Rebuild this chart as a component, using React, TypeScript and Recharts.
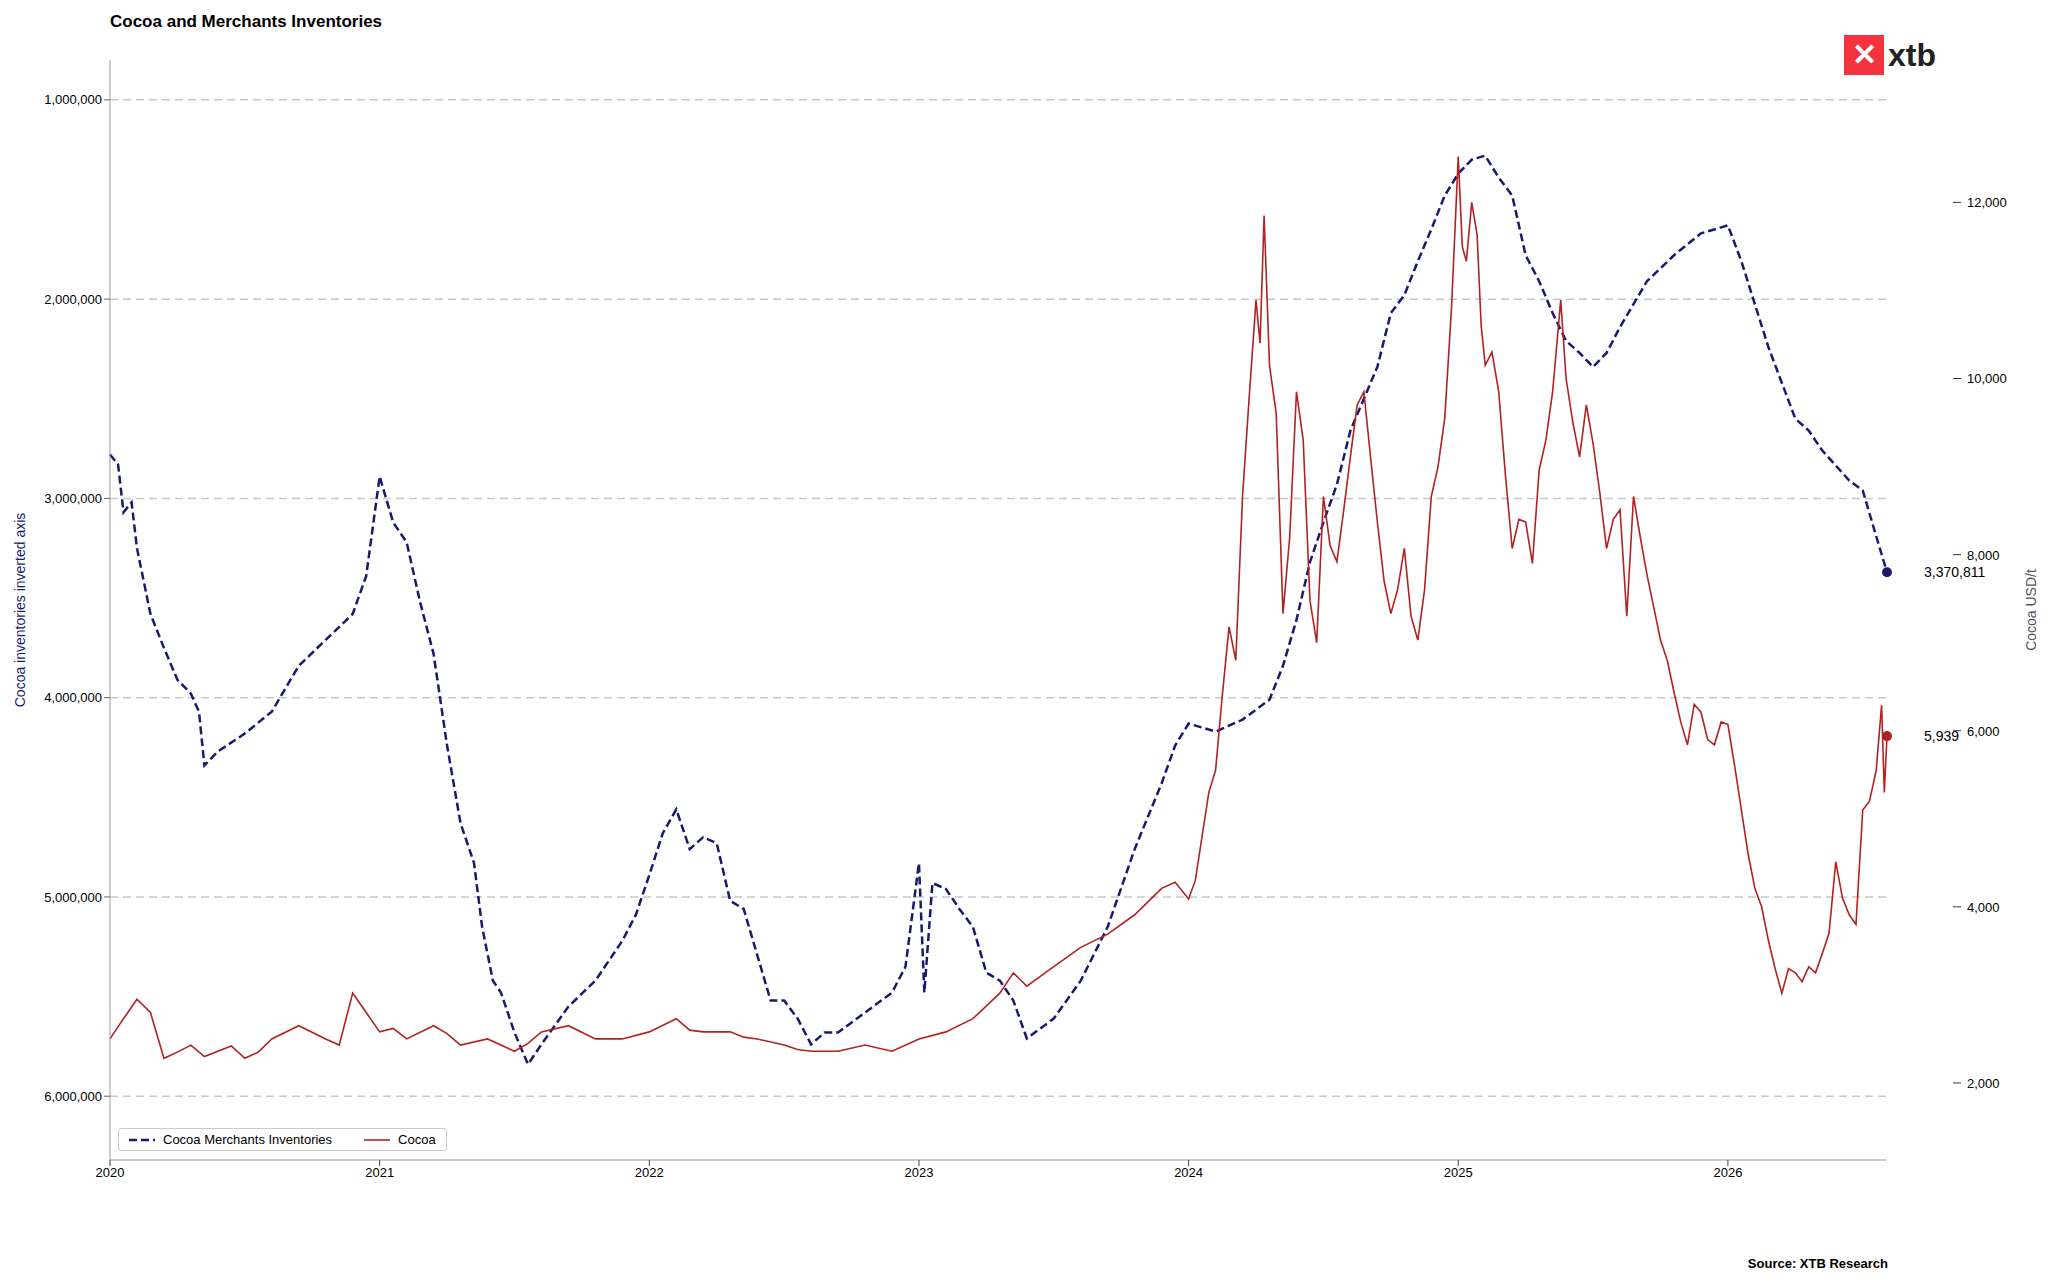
import React from "react";
import { LineChart, Line, XAxis, YAxis, ReferenceLine } from "recharts";

// Cocoa merchants inventories (tonnes), inverted axis
const invYears = [
  2020.0, 2020.03, 2020.05, 2020.08, 2020.1, 2020.15, 2020.2, 2020.25, 2020.3, 2020.33, 2020.35, 2020.4, 2020.5,
  2020.6, 2020.7, 2020.8, 2020.9, 2020.95, 2021.0, 2021.05, 2021.1, 2021.15, 2021.2, 2021.25, 2021.3, 2021.35,
  2021.38, 2021.42, 2021.45, 2021.5, 2021.55, 2021.6, 2021.7, 2021.8, 2021.9, 2021.95, 2022.0, 2022.05, 2022.1,
  2022.15, 2022.2, 2022.25, 2022.3, 2022.35, 2022.4, 2022.45, 2022.5, 2022.55, 2022.6, 2022.65, 2022.7, 2022.8,
  2022.9, 2022.95, 2023.0, 2023.02, 2023.05, 2023.1, 2023.15, 2023.2, 2023.25, 2023.3, 2023.35, 2023.4, 2023.5,
  2023.6, 2023.7, 2023.8, 2023.9, 2023.95, 2024.0, 2024.1, 2024.2, 2024.3, 2024.35, 2024.4, 2024.45, 2024.5,
  2024.55, 2024.6, 2024.7, 2024.75, 2024.8, 2024.85, 2024.9, 2024.95, 2025.0, 2025.05, 2025.1, 2025.15, 2025.2,
  2025.25, 2025.3, 2025.35, 2025.4, 2025.45, 2025.5, 2025.55, 2025.6, 2025.7, 2025.8, 2025.9, 2026.0, 2026.05,
  2026.15, 2026.25, 2026.3, 2026.35, 2026.45, 2026.5, 2026.55, 2026.59,
];
const invValues = [
  2.78, 2.83, 3.07, 3.02, 3.25, 3.58, 3.75, 3.91, 3.98, 4.07, 4.34, 4.27, 4.18,
  4.07, 3.84, 3.71, 3.58, 3.39, 2.89, 3.12, 3.22, 3.52, 3.78, 4.24, 4.63, 4.83,
  5.15, 5.42, 5.48, 5.68, 5.84, 5.74, 5.55, 5.42, 5.22, 5.09, 4.89, 4.68, 4.56,
  4.76, 4.7, 4.73, 5.02, 5.06, 5.29, 5.52, 5.52, 5.61, 5.74, 5.68, 5.68, 5.58,
  5.48, 5.35, 4.83, 5.48, 4.93, 4.96, 5.06, 5.15, 5.38, 5.42, 5.52, 5.71, 5.61,
  5.42, 5.15, 4.76, 4.43, 4.24, 4.13, 4.17, 4.11, 4.01, 3.84, 3.61, 3.32, 3.12,
  2.93, 2.66, 2.34, 2.07, 1.98, 1.81, 1.65, 1.48, 1.37, 1.3, 1.28, 1.39, 1.48,
  1.78, 1.91, 2.07, 2.21, 2.27, 2.34, 2.27, 2.14, 1.91, 1.78, 1.67, 1.63, 1.81,
  2.24, 2.6, 2.66, 2.76, 2.91, 2.96, 3.19, 3.370811,
].map((v) => v * 1000000);

// Cocoa price (USD/t)
const cocoaYears = [
  2020.0, 2020.05, 2020.1, 2020.15, 2020.2, 2020.25, 2020.3, 2020.35, 2020.4, 2020.45, 2020.5, 2020.55, 2020.6,
  2020.7, 2020.8, 2020.85, 2020.9, 2020.95, 2021.0, 2021.05, 2021.1, 2021.2, 2021.25, 2021.3, 2021.4, 2021.5,
  2021.55, 2021.6, 2021.7, 2021.8, 2021.9, 2022.0, 2022.1, 2022.15, 2022.2, 2022.3, 2022.35, 2022.4, 2022.5,
  2022.55, 2022.6, 2022.7, 2022.8, 2022.9, 2023.0, 2023.1, 2023.2, 2023.3, 2023.35, 2023.4, 2023.5, 2023.6,
  2023.7, 2023.8, 2023.85, 2023.9, 2023.95,
  2024.0, 2024.025, 2024.05, 2024.075, 2024.1, 2024.125, 2024.15, 2024.175, 2024.2, 2024.225, 2024.25, 2024.265,
  2024.28, 2024.3, 2024.325, 2024.35, 2024.375, 2024.4, 2024.425, 2024.45, 2024.475, 2024.5, 2024.525, 2024.55,
  2024.575, 2024.6, 2024.625, 2024.65, 2024.675, 2024.7, 2024.725, 2024.75, 2024.775, 2024.8, 2024.825, 2024.85,
  2024.875, 2024.9, 2024.925, 2024.95, 2024.975, 2025.0, 2025.015, 2025.03, 2025.05, 2025.07, 2025.085, 2025.1,
  2025.125, 2025.15, 2025.175, 2025.2, 2025.225, 2025.25, 2025.275, 2025.3, 2025.325, 2025.35, 2025.38, 2025.4,
  2025.425, 2025.45, 2025.475, 2025.5, 2025.525, 2025.55, 2025.575, 2025.6, 2025.625, 2025.65, 2025.675, 2025.7,
  2025.725, 2025.75, 2025.775, 2025.8, 2025.825, 2025.85, 2025.875, 2025.9, 2025.925, 2025.95, 2025.975, 2026.0,
  2026.025, 2026.05, 2026.075, 2026.1, 2026.125, 2026.15, 2026.175, 2026.2, 2026.225, 2026.25, 2026.275, 2026.3,
  2026.325, 2026.35, 2026.375, 2026.4, 2026.425, 2026.45, 2026.475, 2026.5, 2026.525, 2026.55, 2026.57, 2026.58,
  2026.59,
];
const cocoaValues = [
  2500, 2730, 2950, 2800, 2280, 2350, 2430, 2300, 2360, 2420, 2280, 2350, 2500,
  2650, 2500, 2430, 3020, 2800, 2580, 2620, 2500, 2650, 2560, 2430, 2500, 2360,
  2450, 2580, 2650, 2500, 2500, 2580, 2730, 2600, 2580, 2580, 2520, 2500, 2430,
  2380, 2360, 2360, 2430, 2360, 2500, 2580, 2730, 3020, 3250, 3100, 3320, 3540,
  3690, 3910, 4060, 4210, 4280,
  4090, 4300, 4800, 5300, 5550, 6400, 7180, 6800, 8660, 9800, 10890, 10400,
  11850, 10150, 9600, 7330, 8200, 9850, 9300, 7480, 7000, 8660, 8100, 7920,
  8500, 9110, 9700, 9850, 9100, 8370, 7700, 7330, 7600, 8070, 7300, 7030,
  7600, 8660, 9000, 9550, 10800, 12520, 11500, 11330, 12000, 11630, 10600, 10150,
  10300, 9850, 8900, 8070, 8400, 8370, 7900, 8960, 9300, 9850, 10890, 10000,
  9500, 9110, 9700, 9260, 8700, 8070, 8400, 8510, 7300, 8660, 8200, 7770,
  7400, 7030, 6800, 6440, 6100, 5840, 6300, 6210, 5900, 5840, 6100, 6070,
  5600, 5100, 4600, 4210, 4000, 3620, 3300, 3020, 3300, 3250, 3150, 3320,
  3250, 3470, 3700, 4510, 4100, 3910, 3800, 5100, 5200, 5550, 6290, 5300,
  5939,
];

const yearTicks = [2020, 2021, 2022, 2023, 2024, 2025, 2026];
const invTicks = [1000000, 2000000, 3000000, 4000000, 5000000, 6000000];
const cocoaTicks = [2000, 4000, 6000, 8000, 10000, 12000];

const invData = invYears.map((x, i) => ({ x, inv: invValues[i] }));
const cocoaData = cocoaYears.map((x, i) => ({ x, cocoa: cocoaValues[i] }));

const NAVY = "#191970";
const RED = "#b22222";
const FONT = "Arial, 'Liberation Sans', sans-serif";
const fmt = (v: number) => v.toLocaleString("en-US");

const endDot = (n: number, color: string, label: string) => (props: any) => {
  const { cx, cy, index } = props;
  if (index !== n - 1) return <g key={`d${index}`} />;
  return (
    <g key={`d${index}`}>
      <circle cx={cx} cy={cy} r={5} fill={color} />
      <text x={cx + 37} y={cy + 5} fontSize={14} fill="#000" fontFamily={FONT}>
        {label}
      </text>
    </g>
  );
};

// right axis sits offset from the plot edge
const RightTick = (props: any) => {
  const { x, y, payload } = props;
  return (
    <g>
      <line x1={x + 58} x2={x + 66} y1={y} y2={y} stroke="#333" />
      <text x={x + 72} y={y + 5} fontSize={13} fill="#000" fontFamily={FONT}>
        {fmt(payload.value)}
      </text>
    </g>
  );
};

const LegendBox = () => (
  <div style={{ display: "inline-flex", alignItems: "center", gap: 8, border: "1px solid #ccc", borderRadius: 3, padding: "3px 10px", background: "#fff", fontSize: 13 }}>
    <svg width={26} height={6}><line x1={0} x2={26} y1={3} y2={3} stroke={NAVY} strokeWidth={2.5} strokeDasharray="8 4" /></svg>
    <span style={{ marginRight: 24 }}>Cocoa Merchants Inventories</span>
    <svg width={26} height={6}><line x1={0} x2={26} y1={3} y2={3} stroke={RED} strokeWidth={1.6} /></svg>
    <span>Cocoa</span>
  </div>
);

export default function App() {
  return (
    <div style={{ position: "relative", width: 2032, height: 1270, fontFamily: FONT }}>
      <div style={{ position: "absolute", left: 102, top: 4, fontSize: 17, fontWeight: "bold" }}>
        Cocoa and Merchants Inventories
      </div>
      <div style={{ position: "absolute", left: 1836, top: 27, display: "flex", alignItems: "center" }}>
        <div style={{ width: 40, height: 40, background: "#f5333f", color: "#fff", fontSize: 30, lineHeight: "40px", textAlign: "center", fontWeight: "bold" }}>
          ✕
        </div>
        <span style={{ fontSize: 32, fontWeight: "bold", color: "#222", marginLeft: 4 }}>xtb</span>
      </div>
      <div style={{ position: "absolute", right: 152, top: 1248, fontSize: 13, fontWeight: "bold" }}>
        Source: XTB Research
      </div>
      <div style={{ position: "absolute", left: 110, top: 1120, zIndex: 2 }}>
        <LegendBox />
      </div>
      <LineChart width={2032} height={1270} margin={{ top: 52, right: 53, bottom: 88, left: 12 }}>
        {invTicks.map((t) => (
          <ReferenceLine key={t} yAxisId="inv" y={t} stroke="#c8c8c8" strokeDasharray="8 5" strokeWidth={1.5} />
        ))}
        <XAxis
          dataKey="x"
          type="number"
          domain={[2020, 2026.59]}
          ticks={yearTicks}
          allowDuplicatedCategory={false}
          tick={{ fontSize: 13, fill: "#000" }}
          tickLine={{ stroke: "#444" }}
          axisLine={{ stroke: "#999" }}
        />
        <YAxis
          yAxisId="inv"
          reversed
          domain={[800000, 6320000]}
          ticks={invTicks}
          tickFormatter={fmt}
          width={90}
          tick={{ fontSize: 13, fill: "#000" }}
          axisLine={{ stroke: "#999" }}
          label={{ value: "Cocoa inventories inverted axis", angle: -90, position: "insideLeft", offset: 0, style: { fill: NAVY, fontSize: 14, textAnchor: "middle" } }}
        />
        <YAxis
          yAxisId="cocoa"
          orientation="right"
          domain={[1125, 13617]}
          ticks={cocoaTicks}
          width={100}
          axisLine={false}
          tickLine={false}
          tick={<RightTick />}
          label={{ value: "Cocoa USD/t", angle: -90, position: "insideRight", offset: -44, style: { fill: "#555", fontSize: 14, textAnchor: "middle" } }}
        />
        <Line
          yAxisId="inv"
          data={invData}
          dataKey="inv"
          name="Cocoa Merchants Inventories"
          stroke={NAVY}
          strokeWidth={2.5}
          strokeDasharray="8 4"
          dot={endDot(invData.length, NAVY, "3,370,811")}
          isAnimationActive={false}
        />
        <Line
          yAxisId="cocoa"
          data={cocoaData}
          dataKey="cocoa"
          name="Cocoa"
          stroke={RED}
          strokeWidth={1.6}
          dot={endDot(cocoaData.length, RED, "5,939")}
          isAnimationActive={false}
        />
      </LineChart>
    </div>
  );
}
